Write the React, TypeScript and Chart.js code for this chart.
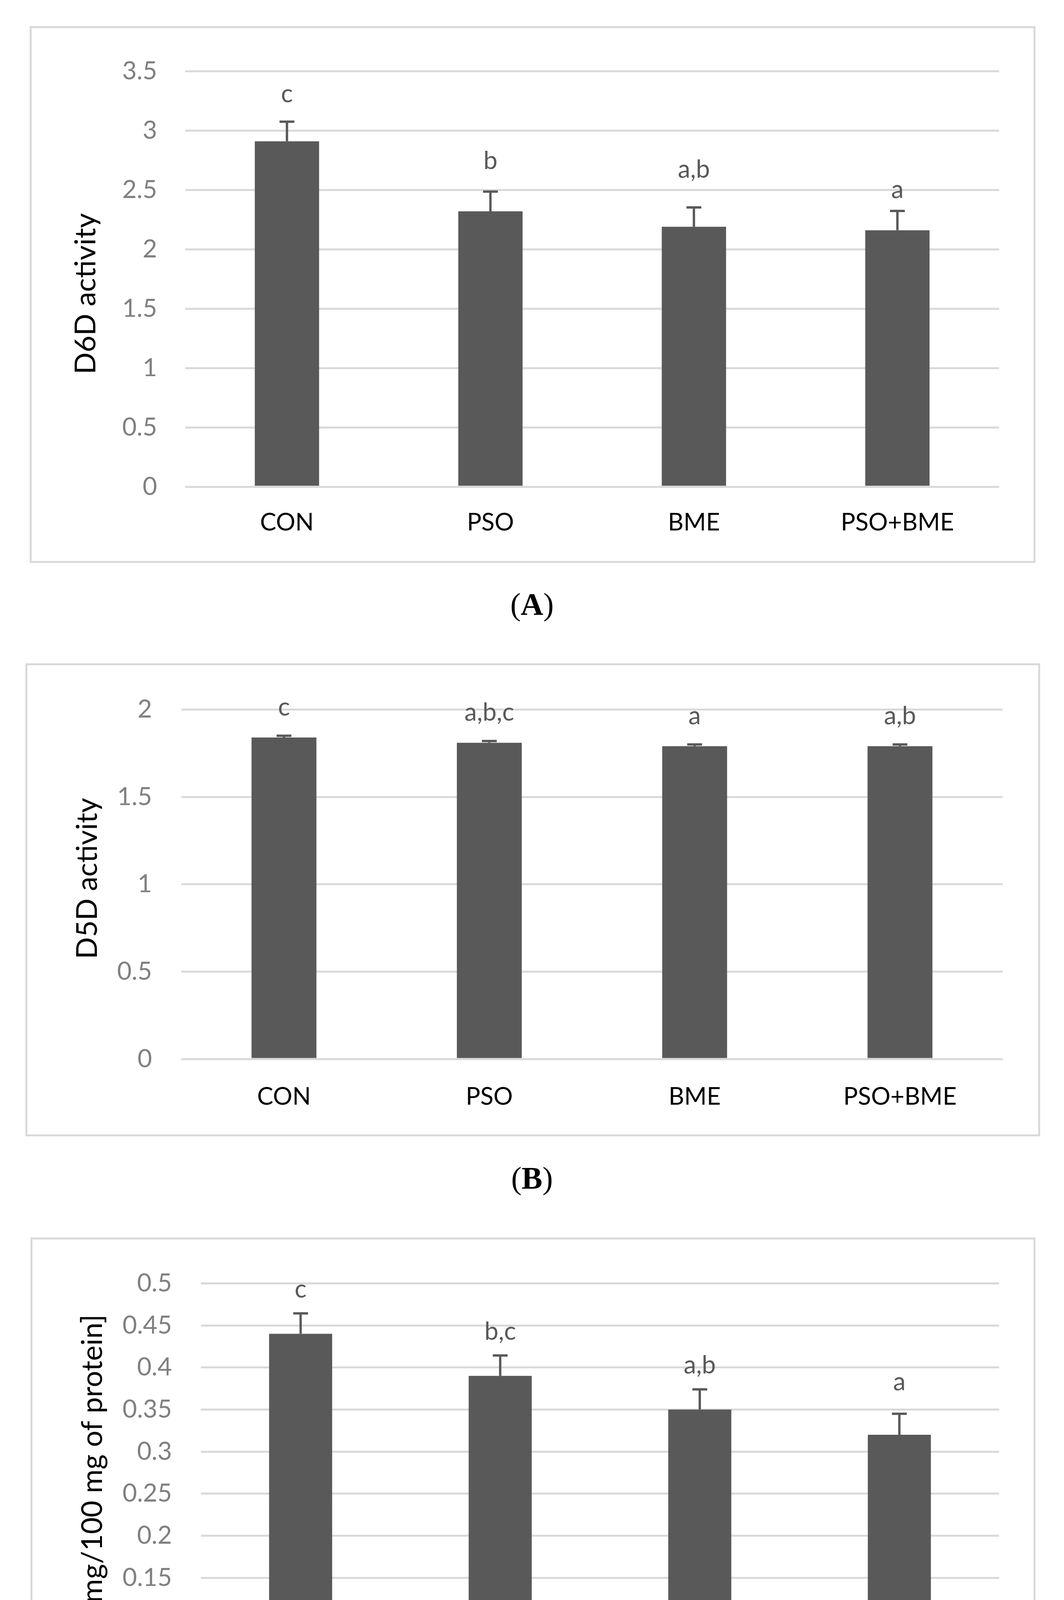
import React, { useEffect, useRef } from "react";
import { Chart, registerables } from "chart.js";

Chart.register(...registerables);

// ---------------- data ----------------
const categories = ["CON", "PSO", "BME", "PSO+BME"];

const d6dValues = [2.91, 2.32, 2.19, 2.16];
const d6dErrors = [0.165, 0.166, 0.163, 0.163];
const d6dLetters = ["c", "b", "a,b", "a"];
const d6dLetterBase = [3.239, 2.674, 2.603, 2.432];
const d6dTicks = [0, 0.5, 1, 1.5, 2, 2.5, 3, 3.5];
const d6dTickLabels = ["0", "0.5", "1", "1.5", "2", "2.5", "3", "3.5"];

const d5dValues = [1.84, 1.81, 1.79, 1.79];
const d5dErrors = [0.01, 0.01, 0.01, 0.01];
const d5dLetters = ["c", "a,b,c", "a", "a,b"];
const d5dLetterBase = [1.965, 1.937, 1.917, 1.917];
const d5dTicks = [0, 0.5, 1, 1.5, 2];
const d5dTickLabels = ["0", "0.5", "1", "1.5", "2"];

const aaValues = [0.44, 0.39, 0.35, 0.32];
const aaErrors = [0.0243, 0.0243, 0.024, 0.025];
const aaLetters = ["c", "b,c", "a,b", "a"];
const aaLetterBase = [0.483, 0.433, 0.393, 0.373];
const aaTicks = [0, 0.05, 0.1, 0.15, 0.2, 0.25, 0.3, 0.35, 0.4, 0.45, 0.5];
const aaTickLabels = ["0", "0.05", "0.1", "0.15", "0.2", "0.25", "0.3", "0.35", "0.4", "0.45", "0.5"];

// ---------------- styling ----------------
const FONT = "Lato, 'Open Sans', sans-serif";
const BAR = "#595959";
const GRID = "#d9d9d9";
const TICK = "#808080";
const BORDER = 5;

type Panel = {
  caption: string;
  title: string;
  values: number[];
  errors: number[];
  letters: string[];
  letterBase: number[];
  ticks: number[];
  tickLabels: string[];
  box: { left: number; top: number; width: number; height: number };
  area: { left: number; right: number; top: number; bottom: number };
  titleX: number;
  titleY: number;
  xPad: number;
  yPad: number;
  captionTop: number;
};

const panels: Panel[] = [
  {
    caption: "A",
    title: "D6D activity",
    values: d6dValues,
    errors: d6dErrors,
    letters: d6dLetters,
    letterBase: d6dLetterBase,
    ticks: d6dTicks,
    tickLabels: d6dTickLabels,
    box: { left: 76, top: 67, width: 2574, height: 1374 },
    area: { left: 474, right: 2557, top: 161, bottom: 1246 },
    titleX: 220,
    titleY: 752,
    xPad: 55,
    yPad: 72,
    captionTop: 1507,
  },
  {
    caption: "B",
    title: "D5D activity",
    values: d5dValues,
    errors: d5dErrors,
    letters: d5dLetters,
    letterBase: d5dLetterBase,
    ticks: d5dTicks,
    tickLabels: d5dTickLabels,
    box: { left: 65, top: 1698, width: 2597, height: 1211 },
    area: { left: 464, right: 2566, top: 1793, bottom: 2711 },
    titleX: 224,
    titleY: 2249,
    xPad: 60,
    yPad: 75,
    captionTop: 2976,
  },
  {
    caption: "C",
    title: "AA [mg/100 mg of protein]",
    values: aaValues,
    errors: aaErrors,
    letters: aaLetters,
    letterBase: aaLetterBase,
    ticks: aaTicks,
    tickLabels: aaTickLabels,
    box: { left: 78, top: 3168, width: 2572, height: 1387 },
    area: { left: 514, right: 2557, top: 3262, bottom: 4362 },
    titleX: 237,
    titleY: 3804,
    xPad: 55,
    yPad: 74,
    captionTop: 4622,
  },
];

function PanelChart({ p }: { p: Panel }) {
  const ref = useRef<HTMLCanvasElement | null>(null);
  const ox = p.box.left + BORDER;
  const oy = p.box.top + BORDER;
  const cw = p.box.width - 2 * BORDER;
  const ch = p.box.height - 2 * BORDER;

  useEffect(() => {
    if (!ref.current) return;
    const extras = {
      id: "extras",
      afterDatasetsDraw(chart: any) {
        const ctx = chart.ctx;
        const y = chart.scales.y;
        const meta = chart.getDatasetMeta(0);
        ctx.save();
        // error bars
        ctx.strokeStyle = BAR;
        ctx.lineWidth = 6;
        meta.data.forEach((bar: any, i: number) => {
          const x = bar.x;
          const y0 = y.getPixelForValue(p.values[i]);
          const y1 = y.getPixelForValue(p.values[i] + p.errors[i]);
          ctx.beginPath();
          ctx.moveTo(x, y0);
          ctx.lineTo(x, y1);
          ctx.moveTo(x - 19, y1);
          ctx.lineTo(x + 19, y1);
          ctx.stroke();
        });
        // significance letters
        ctx.fillStyle = BAR;
        ctx.font = `64px ${FONT}`;
        ctx.textAlign = "center";
        ctx.textBaseline = "alphabetic";
        meta.data.forEach((bar: any, i: number) => {
          ctx.fillText(p.letters[i], bar.x, y.getPixelForValue(p.letterBase[i]));
        });
        // axis title
        ctx.fillStyle = "#000000";
        ctx.font = `74px ${FONT}`;
        ctx.textBaseline = "middle";
        ctx.translate(p.titleX - ox, p.titleY - oy);
        ctx.rotate(-Math.PI / 2);
        ctx.fillText(p.title, 0, 0);
        ctx.restore();
      },
    };

    const chart = new Chart(ref.current, {
      type: "bar",
      data: {
        labels: categories,
        datasets: [
          {
            data: p.values,
            backgroundColor: BAR,
            borderWidth: 0,
            categoryPercentage: 1,
            barPercentage: 0.316,
          },
        ],
      },
      options: {
        animation: false,
        responsive: false,
        devicePixelRatio: 1,
        layout: {
          padding: {
            left: 0,
            top: p.area.top - oy,
            right: cw - (p.area.right - ox),
            bottom: 0,
          },
        },
        plugins: {
          legend: { display: false },
          tooltip: { enabled: false },
          title: { display: false },
        },
        scales: {
          x: {
            type: "category",
            grid: { display: false, drawTicks: false },
            border: { display: false },
            ticks: {
              color: "#000000",
              font: { family: FONT, size: 62 },
              padding: p.xPad,
              maxRotation: 0,
              autoSkip: false,
            },
            afterFit: (s: any) => {
              s.height = ch - (p.area.bottom - oy);
            },
          },
          y: {
            min: 0,
            max: p.ticks[p.ticks.length - 1],
            grid: { color: GRID, lineWidth: 5, drawTicks: false },
            border: { display: false },
            ticks: {
              color: TICK,
              font: { family: FONT, size: 64 },
              padding: p.yPad,
              callback: (_v: any, i: number) => p.tickLabels[i],
            },
            afterBuildTicks: (s: any) => {
              s.ticks = p.ticks.map((v) => ({ value: v }));
            },
            afterFit: (s: any) => {
              s.width = p.area.left - ox;
            },
          },
        },
      },
      plugins: [extras],
    });
    return () => chart.destroy();
  }, []);

  return (
    <>
      <div
        style={{
          position: "absolute",
          left: p.box.left,
          top: p.box.top,
          width: p.box.width,
          height: p.box.height,
          boxSizing: "border-box",
          border: `${BORDER}px solid ${GRID}`,
          background: "#ffffff",
        }}
      >
        <canvas ref={ref} width={cw} height={ch} style={{ display: "block", width: cw, height: ch }} />
      </div>
      <div
        style={{
          position: "absolute",
          left: 0,
          top: p.captionTop,
          width: 2723,
          textAlign: "center",
          fontFamily: "'Liberation Serif', 'Times New Roman', serif",
          fontSize: 80,
          lineHeight: "80px",
          color: "#000",
        }}
      >
        (<b>{p.caption}</b>)
      </div>
    </>
  );
}

export default function App() {
  return (
    <div style={{ position: "absolute", left: 0, top: 0, width: 2723, height: 4735, background: "#fff" }}>
      {panels.map((p) => (
        <PanelChart key={p.caption} p={p} />
      ))}
    </div>
  );
}
